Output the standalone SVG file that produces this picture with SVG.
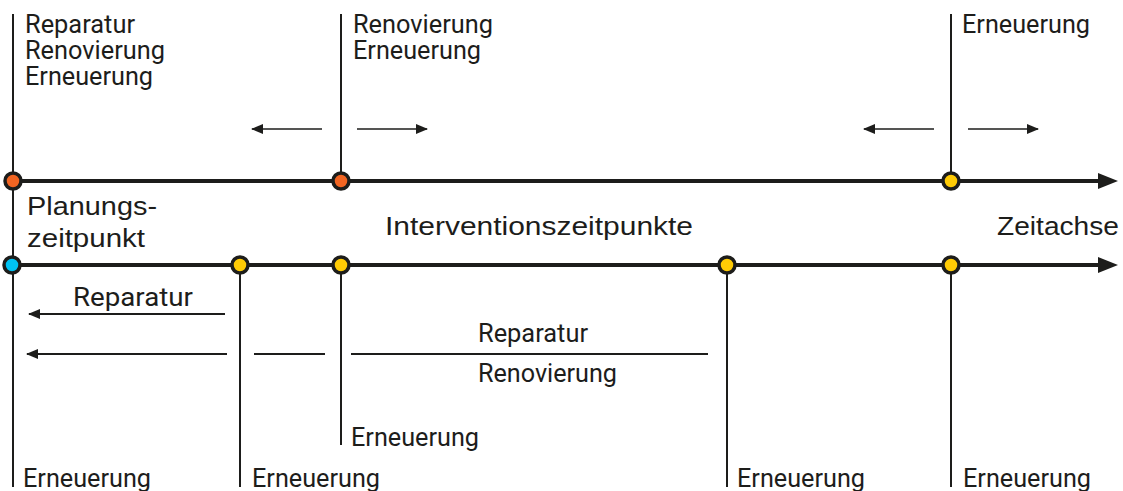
<svg xmlns="http://www.w3.org/2000/svg" width="1123" height="491" viewBox="0 0 1123 491">
  <style>
    .axis { stroke: #1d1d1b; stroke-width: 4; fill: none; }
    .tick { stroke: #1d1d1b; stroke-width: 2; fill: none; }
    .thin { stroke: #1d1d1b; stroke-width: 1.6; fill: none; }
    .lead { stroke: #1d1d1b; stroke-width: 2.2; fill: none; }
    .head { fill: #1d1d1b; }
    .dot { stroke: #1d1d1b; stroke-width: 3.5; }
    .orange { fill: #f26522; }
    .yellow { fill: #ffcb05; }
    .cyan { fill: #00c2f3; }
    .cond { font-family: Roboto, "Liberation Sans", sans-serif; font-size: 26px; fill: #1d1d1b; }
    .wide { font-family: "Liberation Sans", Arial, sans-serif; font-size: 26px; fill: #1d1d1b; }
  </style>
  <defs>
    <marker id="smallHead" markerUnits="userSpaceOnUse" markerWidth="12" markerHeight="12" viewBox="0 0 12 12" refX="11" refY="6" orient="auto">
      <path class="head" d="M0,1 L12,6 L0,11 Z"/>
    </marker>
  </defs>

  <!-- connectors: time axes, intervention ticks and range arrows -->
  <g id="connectors">
    <line class="axis" x1="12" y1="181" x2="1100" y2="181"/>
    <path class="head" d="M1098,173 L1118,181 L1098,189 Z"/>
    <line class="axis" x1="12" y1="265" x2="1100" y2="265"/>
    <path class="head" d="M1098,257 L1118,265 L1098,273 Z"/>

    <!-- vertical ticks -->
    <line class="tick" x1="13" y1="14" x2="13" y2="487"/>
    <line class="tick" x1="341" y1="14" x2="341" y2="181"/>
    <line class="tick" x1="951" y1="14" x2="951" y2="181"/>
    <line class="tick" x1="240" y1="265" x2="240" y2="487"/>
    <line class="tick" x1="341" y1="265" x2="341" y2="445"/>
    <line class="tick" x1="727" y1="265" x2="727" y2="487"/>
    <line class="tick" x1="951" y1="265" x2="951" y2="487"/>

    <!-- shift arrows on upper axis -->
    <line class="thin" x1="322" y1="129" x2="252" y2="129" marker-end="url(#smallHead)"/>
    <line class="thin" x1="357" y1="129" x2="427" y2="129" marker-end="url(#smallHead)"/>
    <line class="thin" x1="934" y1="129" x2="864" y2="129" marker-end="url(#smallHead)"/>
    <line class="thin" x1="968" y1="129" x2="1038" y2="129" marker-end="url(#smallHead)"/>

    <!-- range lines on lower axis -->
    <line class="lead" x1="225" y1="314" x2="29" y2="314" marker-end="url(#smallHead)"/>
    <line class="lead" x1="227" y1="354" x2="27" y2="354" marker-end="url(#smallHead)"/>
    <line class="lead" x1="254" y1="354" x2="325" y2="354"/>
    <line class="lead" x1="351" y1="354" x2="708" y2="354"/>
  </g>

  <!-- upper axis points -->
  <g id="top-start">
    <circle class="dot orange" cx="13" cy="181" r="8"/>
    <text class="cond" x="25" y="33" textLength="110" lengthAdjust="spacingAndGlyphs">Reparatur</text>
    <text class="cond" x="25" y="59" textLength="140" lengthAdjust="spacingAndGlyphs">Renovierung</text>
    <text class="cond" x="25" y="85" textLength="128" lengthAdjust="spacingAndGlyphs">Erneuerung</text>
  </g>
  <g id="top-mid">
    <circle class="dot orange" cx="341" cy="181" r="8"/>
    <text class="cond" x="353" y="33" textLength="140" lengthAdjust="spacingAndGlyphs">Renovierung</text>
    <text class="cond" x="353" y="59" textLength="128" lengthAdjust="spacingAndGlyphs">Erneuerung</text>
  </g>
  <g id="top-end">
    <circle class="dot yellow" cx="951" cy="181" r="8"/>
    <text class="cond" x="962" y="33" textLength="128" lengthAdjust="spacingAndGlyphs">Erneuerung</text>
  </g>

  <!-- axis captions -->
  <g id="captions">
    <text class="wide" x="27" y="215" textLength="130" lengthAdjust="spacingAndGlyphs">Planungs-</text>
    <text class="wide" x="27" y="247" textLength="118" lengthAdjust="spacingAndGlyphs">zeitpunkt</text>
    <text class="wide" x="385" y="235" textLength="308" lengthAdjust="spacingAndGlyphs">Interventionszeitpunkte</text>
    <text class="wide" x="997" y="235" textLength="122" lengthAdjust="spacingAndGlyphs">Zeitachse</text>
  </g>

  <!-- lower axis points -->
  <g id="bottom-start">
    <circle class="dot cyan" cx="12" cy="265" r="8"/>
    <text class="cond" x="23" y="487" textLength="128" lengthAdjust="spacingAndGlyphs">Erneuerung</text>
  </g>
  <g id="bottom-p1">
    <circle class="dot yellow" cx="240" cy="265" r="8"/>
    <text class="cond" x="252" y="487" textLength="128" lengthAdjust="spacingAndGlyphs">Erneuerung</text>
  </g>
  <g id="bottom-p2">
    <circle class="dot yellow" cx="341" cy="265" r="8"/>
    <text class="cond" x="351" y="446" textLength="128" lengthAdjust="spacingAndGlyphs">Erneuerung</text>
  </g>
  <g id="bottom-p3">
    <circle class="dot yellow" cx="727" cy="265" r="8"/>
    <text class="cond" x="737" y="487" textLength="128" lengthAdjust="spacingAndGlyphs">Erneuerung</text>
  </g>
  <g id="bottom-p4">
    <circle class="dot yellow" cx="951" cy="265" r="8"/>
    <text class="cond" x="963" y="487" textLength="128" lengthAdjust="spacingAndGlyphs">Erneuerung</text>
  </g>

  <!-- range labels -->
  <g id="range-labels">
    <text class="cond" x="73" y="306" textLength="120" lengthAdjust="spacingAndGlyphs">Reparatur</text>
    <text class="cond" x="478" y="342" textLength="110" lengthAdjust="spacingAndGlyphs">Reparatur</text>
    <text class="cond" x="478" y="382" textLength="139" lengthAdjust="spacingAndGlyphs">Renovierung</text>
  </g>
</svg>
